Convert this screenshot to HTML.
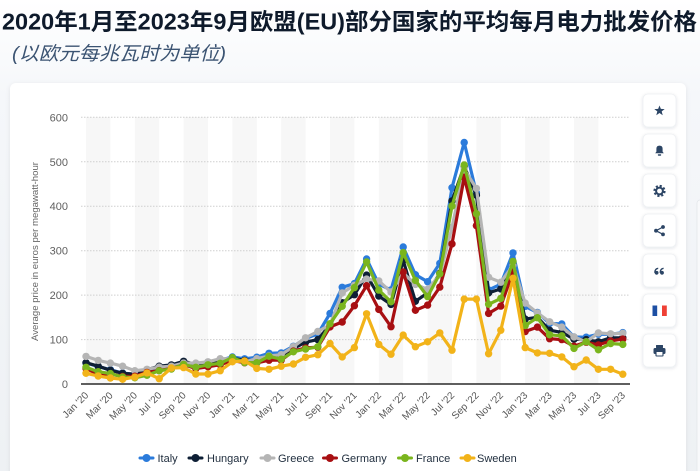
<!DOCTYPE html>
<html>
<head>
<meta charset="utf-8">
<style>
html,body{margin:0;padding:0;background:#fff;}
body{width:700px;height:471px;overflow:hidden;}
svg{display:block;}
.tk{font-family:"Liberation Sans",sans-serif;font-size:11px;fill:#606060;}
.xl{font-family:"Liberation Sans",sans-serif;font-size:10px;fill:#555;}
.lg{font-family:"Liberation Sans",sans-serif;font-size:11px;fill:#1f2d3d;}
</style>
</head>
<body>
<svg width="700" height="471" viewBox="0 0 700 471" xmlns="http://www.w3.org/2000/svg">
<defs>
<linearGradient id="bg" x1="0" y1="0" x2="0" y2="1">
<stop offset="0" stop-color="#ffffff"/>
<stop offset="0.2" stop-color="#f5f7fa"/>
<stop offset="1" stop-color="#eef1f4"/>
</linearGradient>
<filter id="sh" x="-10%" y="-10%" width="120%" height="120%">
<feDropShadow dx="0" dy="1" stdDeviation="2.5" flood-color="#1a2a40" flood-opacity="0.08"/>
</filter>
<filter id="bsh" x="-30%" y="-30%" width="160%" height="160%">
<feDropShadow dx="0" dy="1" stdDeviation="1.5" flood-color="#1a2a40" flood-opacity="0.12"/>
</filter>
<marker id="mI" markerWidth="10" markerHeight="10" refX="5" refY="5" markerUnits="userSpaceOnUse"><circle cx="5" cy="5" r="3.7" fill="#2b7bdb"/></marker>
<marker id="mH" markerWidth="10" markerHeight="10" refX="5" refY="5" markerUnits="userSpaceOnUse"><circle cx="5" cy="5" r="3.7" fill="#0e1f35"/></marker>
<marker id="mG" markerWidth="10" markerHeight="10" refX="5" refY="5" markerUnits="userSpaceOnUse"><circle cx="5" cy="5" r="3.7" fill="#b5b5b5"/></marker>
<marker id="mD" markerWidth="10" markerHeight="10" refX="5" refY="5" markerUnits="userSpaceOnUse"><circle cx="5" cy="5" r="3.7" fill="#a80f12"/></marker>
<marker id="mF" markerWidth="10" markerHeight="10" refX="5" refY="5" markerUnits="userSpaceOnUse"><circle cx="5" cy="5" r="3.7" fill="#7ab51d"/></marker>
<marker id="mS" markerWidth="10" markerHeight="10" refX="5" refY="5" markerUnits="userSpaceOnUse"><circle cx="5" cy="5" r="3.7" fill="#f2b319"/></marker>
</defs>

<rect x="0" y="0" width="700" height="471" fill="url(#bg)"/>

<!-- Title -->
<text x="2" y="29.5" font-family="'Liberation Sans','Noto Sans CJK SC',sans-serif" font-size="23" font-weight="bold" fill="#0e1a2b" textLength="695" lengthAdjust="spacingAndGlyphs">2020年1月至2023年9月欧盟(EU)部分国家的平均每月电力批发价格</text>
<text x="12" y="60" font-family="'Liberation Sans','Noto Sans CJK SC',sans-serif" font-size="19" font-style="italic" fill="#3b5372" textLength="214" lengthAdjust="spacingAndGlyphs">(以欧元每兆瓦时为单位)</text>

<!-- right strip -->
<rect x="697" y="200" width="6" height="280" rx="3" fill="#f8f9fb" stroke="#e3e6ea" stroke-width="0.8"/>

<!-- card -->
<rect x="10" y="83" width="676" height="400" rx="6" fill="#ffffff" filter="url(#sh)"/>

<!-- plot bands -->
<g fill="#f7f7f7">
<rect x="86" y="117" width="24.4" height="267"/>
<rect x="134.8" y="117" width="24.4" height="267"/>
<rect x="183.6" y="117" width="24.4" height="267"/>
<rect x="232.4" y="117" width="24.4" height="267"/>
<rect x="281.2" y="117" width="24.4" height="267"/>
<rect x="330" y="117" width="24.4" height="267"/>
<rect x="378.8" y="117" width="24.4" height="267"/>
<rect x="427.6" y="117" width="24.4" height="267"/>
<rect x="476.4" y="117" width="24.4" height="267"/>
<rect x="525.2" y="117" width="24.4" height="267"/>
<rect x="574" y="117" width="24.4" height="267"/>
</g>

<!-- gridlines -->
<g stroke="#cfcfcf" stroke-width="1" stroke-dasharray="1.5,1.5">
<line x1="81" y1="117.3" x2="630" y2="117.3"/>
<line x1="81" y1="161.8" x2="630" y2="161.8"/>
<line x1="81" y1="206.2" x2="630" y2="206.2"/>
<line x1="81" y1="250.7" x2="630" y2="250.7"/>
<line x1="81" y1="295.1" x2="630" y2="295.1"/>
<line x1="81" y1="339.6" x2="630" y2="339.6"/>
</g>

<!-- y tick labels -->
<g class="tk" text-anchor="end">
<text x="68" y="121.3">600</text>
<text x="68" y="165.8">500</text>
<text x="68" y="210.2">400</text>
<text x="68" y="254.7">300</text>
<text x="68" y="299.1">200</text>
<text x="68" y="343.6">100</text>
<text x="68" y="388">0</text>
</g>

<!-- y axis title -->
<text transform="translate(38,251.5) rotate(-90)" text-anchor="middle" font-family="'Liberation Sans',sans-serif" font-size="9.5" fill="#666" textLength="179" lengthAdjust="spacingAndGlyphs">Average price in euros per megawatt-hour</text>

<!-- series -->
<g fill="none" stroke-width="3.2" stroke-linejoin="round" stroke-linecap="round">
<polyline stroke="#2b7bdb" marker-start="url(#mI)" marker-mid="url(#mI)" marker-end="url(#mI)" points="86,362.9 98.2,366.5 110.4,369.8 122.6,373 134.8,374.3 147,371.6 159.2,367.1 171.4,366.1 183.6,362.3 195.8,364.6 208,362.3 220.2,360 232.4,357 244.6,358.8 256.8,357.2 269,353.3 281.2,352.9 293.4,346.3 305.6,338.4 317.8,334 330,313.5 342.2,287.3 354.4,283.6 366.6,259 378.8,284.2 391,289.9 403.2,247 415.4,274.7 427.6,281.7 439.8,263.4 452,187.7 464.2,142.5 476.4,192.9 488.6,289.9 500.8,284.2 513,252.9 525.2,306.4 537.4,312.4 549.6,323.4 561.8,324 574,337 586.2,337.2 598.4,334.2 610.6,334.3 622.8,332.6"/>
<polyline stroke="#0e1f35" marker-start="url(#mH)" marker-mid="url(#mH)" marker-end="url(#mH)" points="86,362.7 98.2,366.2 110.4,370.2 122.6,373.3 134.8,374.2 147,369.8 159.2,366.2 171.4,364.9 183.6,361.3 195.8,364.4 208,363.1 220.2,360.4 232.4,358.2 244.6,360.4 256.8,360 269,356.9 281.2,356.4 293.4,348.4 305.6,342.2 317.8,339.6 330,324.9 342.2,302.7 354.4,294.7 366.6,275.1 378.8,296 391,304.4 403.2,260.4 415.4,301.3 427.6,292.9 439.8,273.3 452,200.9 464.2,166.2 476.4,195.1 488.6,292.9 500.8,288.9 513,264.9 525.2,319.1 537.4,317.3 549.6,330.2 561.8,332.4 574,339.1 586.2,339.6 598.4,341.8 610.6,337.8 622.8,337.8"/>
<polyline stroke="#b5b5b5" marker-start="url(#mG)" marker-mid="url(#mG)" marker-end="url(#mG)" points="86,356.4 98.2,360.4 110.4,363.1 122.6,366.2 134.8,370.7 147,369.3 159.2,367.1 171.4,366.2 183.6,363.1 195.8,363.1 208,361.8 220.2,358.7 232.4,358.7 244.6,361.8 256.8,358.7 269,356 281.2,354.7 293.4,346.7 305.6,337.8 317.8,331.5 330,324.9 342.2,292.9 354.4,285.3 366.6,279.1 378.8,280.9 391,292 403.2,272.9 415.4,284.4 427.6,289.3 439.8,275.1 452,227.5 464.2,169.3 476.4,188.4 488.6,277.3 500.8,282.2 513,265.3 525.2,303.1 537.4,312.9 549.6,321.8 561.8,327.1 574,336.9 586.2,341.8 598.4,332.9 610.6,333.8 622.8,333.3"/>
<polyline stroke="#a80f12" marker-start="url(#mD)" marker-mid="url(#mD)" marker-end="url(#mD)" points="86,368.4 98.2,374.3 110.4,374 122.6,376.4 134.8,376.2 147,372.4 159.2,370.6 171.4,368.5 183.6,364.6 195.8,368.5 208,366.8 220.2,364.7 232.4,360.5 244.6,362.7 256.8,363 269,360.2 281.2,360.2 293.4,351.1 305.6,347.9 317.8,347.2 330,326.9 342.2,322 354.4,305.7 366.6,285.7 378.8,309.4 391,326.7 403.2,272 415.4,310.3 427.6,305.1 439.8,287.1 452,243.9 464.2,177.2 476.4,225.6 488.6,313.4 500.8,306.1 513,271.9 525.2,331.5 537.4,327.1 549.6,338.7 561.8,339.6 574,346.2 586.2,342.2 598.4,344.9 610.6,340.9 622.8,339.1"/>
<polyline stroke="#7ab51d" marker-start="url(#mF)" marker-mid="url(#mF)" marker-end="url(#mF)" points="86,367.3 98.2,371.7 110.4,373.6 122.6,377 134.8,377.8 147,375.3 159.2,370.8 171.4,369 183.6,364.4 195.8,367.3 208,364.8 220.2,363.3 232.4,357.6 244.6,362.5 256.8,362.7 269,356.3 281.2,359.2 293.4,351.8 305.6,349 317.8,346.8 330,323.7 342.2,306.3 354.4,287.6 366.6,261.9 378.8,290.1 391,301.8 403.2,252.6 415.4,280.4 427.6,296.6 439.8,273.8 452,206 464.2,165 476.4,213.7 488.6,304.3 500.8,298.4 513,261.4 525.2,325.5 537.4,317.7 549.6,334.8 561.8,335.8 574,348.4 586.2,341.8 598.4,349.8 610.6,343.5 622.8,344.4"/>
<polyline stroke="#f2b319" marker-start="url(#mS)" marker-mid="url(#mS)" marker-end="url(#mS)" points="86,373.3 98.2,376 110.4,378 122.6,379.3 134.8,377.1 147,372.9 159.2,378.7 171.4,368 183.6,367.6 195.8,374 208,374 220.2,370.7 232.4,361.8 244.6,360.9 256.8,368.4 269,369.3 281.2,366.2 293.4,364 305.6,357.3 317.8,354.7 330,343.5 342.2,356.9 354.4,347.6 366.6,313.8 378.8,344.4 391,354.2 403.2,335.1 415.4,346.7 427.6,341.8 439.8,332.9 452,350.2 464.2,299.1 476.4,299.1 488.6,353.8 500.8,330.2 513,278.2 525.2,347.6 537.4,352.9 549.6,353.3 561.8,356.9 574,366.7 586.2,360 598.4,369.3 610.6,369.3 622.8,374.2"/>
</g>

<!-- x axis line -->
<line x1="81" y1="384" x2="630" y2="384" stroke="#2a2a2a" stroke-width="1.5"/>

<!-- x labels -->
<g class="xl" text-anchor="end">
<text transform="translate(89,396) rotate(-45)">Jan '20</text>
<text transform="translate(113.4,396) rotate(-45)">Mar '20</text>
<text transform="translate(137.8,396) rotate(-45)">May '20</text>
<text transform="translate(162.2,396) rotate(-45)">Jul '20</text>
<text transform="translate(186.6,396) rotate(-45)">Sep '20</text>
<text transform="translate(211,396) rotate(-45)">Nov '20</text>
<text transform="translate(235.4,396) rotate(-45)">Jan '21</text>
<text transform="translate(259.8,396) rotate(-45)">Mar '21</text>
<text transform="translate(284.2,396) rotate(-45)">May '21</text>
<text transform="translate(308.6,396) rotate(-45)">Jul '21</text>
<text transform="translate(333,396) rotate(-45)">Sep '21</text>
<text transform="translate(357.4,396) rotate(-45)">Nov '21</text>
<text transform="translate(381.8,396) rotate(-45)">Jan '22</text>
<text transform="translate(406.2,396) rotate(-45)">Mar '22</text>
<text transform="translate(430.6,396) rotate(-45)">May '22</text>
<text transform="translate(455,396) rotate(-45)">Jul '22</text>
<text transform="translate(479.4,396) rotate(-45)">Sep '22</text>
<text transform="translate(503.8,396) rotate(-45)">Nov '22</text>
<text transform="translate(528.2,396) rotate(-45)">Jan '23</text>
<text transform="translate(552.6,396) rotate(-45)">Mar '23</text>
<text transform="translate(577,396) rotate(-45)">May '23</text>
<text transform="translate(601.4,396) rotate(-45)">Jul '23</text>
<text transform="translate(625.8,396) rotate(-45)">Sep '23</text>
</g>

<!-- legend -->
<g stroke-width="3" stroke-linecap="round">
<line x1="140" y1="458" x2="153" y2="458" stroke="#2b7bdb"/><circle cx="146.5" cy="458" r="4" fill="#2b7bdb" stroke="none"/>
<line x1="189" y1="458" x2="202" y2="458" stroke="#0e1f35"/><circle cx="195.5" cy="458" r="4" fill="#0e1f35" stroke="none"/>
<line x1="261" y1="458" x2="274" y2="458" stroke="#b5b5b5"/><circle cx="267.5" cy="458" r="4" fill="#b5b5b5" stroke="none"/>
<line x1="323.5" y1="458" x2="336.5" y2="458" stroke="#a80f12"/><circle cx="330" cy="458" r="4" fill="#a80f12" stroke="none"/>
<line x1="398.5" y1="458" x2="411.5" y2="458" stroke="#7ab51d"/><circle cx="405" cy="458" r="4" fill="#7ab51d" stroke="none"/>
<line x1="461" y1="458" x2="474" y2="458" stroke="#f2b319"/><circle cx="467.5" cy="458" r="4" fill="#f2b319" stroke="none"/>
</g>
<g class="lg">
<text x="157.5" y="462">Italy</text>
<text x="207" y="462">Hungary</text>
<text x="278" y="462">Greece</text>
<text x="341.5" y="462">Germany</text>
<text x="416" y="462">France</text>
<text x="477" y="462">Sweden</text>
</g>

<!-- buttons -->
<g fill="#ffffff" stroke="#eef0f3" stroke-width="0.8" filter="url(#bsh)">
<rect x="643" y="94" width="33" height="33" rx="5"/>
<rect x="643" y="134" width="33" height="33" rx="5"/>
<rect x="643" y="174" width="33" height="33" rx="5"/>
<rect x="643" y="214" width="33" height="33" rx="5"/>
<rect x="643" y="254" width="33" height="33" rx="5"/>
<rect x="643" y="294" width="33" height="33" rx="5"/>
<rect x="643" y="334" width="33" height="33" rx="5"/>
</g>
<g fill="#2c4565">
<!-- star -->
<polygon points="659.5,105.5 660.85,108.9 664.7,109.1 661.7,111.4 662.7,115.2 659.5,113 656.3,115.2 657.3,111.4 654.3,109.1 658.15,108.9"/>
<!-- bell -->
<path d="M655.2 153.2 L663.8 153.2 L662.6 151.6 L662.6 148.6 Q662.6 145.6 659.5 145.6 Q656.4 145.6 656.4 148.6 L656.4 151.6 Z"/>
<rect x="657.8" y="154.3" width="3.4" height="1.4" rx="0.7"/>
<!-- gear -->
<circle cx="659.5" cy="191" r="5" fill="none" stroke="#2c4565" stroke-width="2.2" stroke-dasharray="2.1,1.83"/>
<circle cx="659.5" cy="191" r="3.4" fill="#fff" stroke="#2c4565" stroke-width="2"/>
<!-- share -->
<circle cx="663" cy="227" r="1.9"/>
<circle cx="656" cy="230.7" r="1.9"/>
<circle cx="663" cy="234.4" r="1.9"/>
<path d="M663 227 L656 230.7 L663 234.4" fill="none" stroke="#2c4565" stroke-width="1.2"/>
<!-- quote -->
<circle cx="656.6" cy="272.8" r="1.9"/>
<circle cx="662" cy="272.8" r="1.9"/>
<path d="M654.8 272.8 Q654.8 268.6 658.2 268.3 M660.2 272.8 Q660.2 268.6 663.6 268.3" fill="none" stroke="#2c4565" stroke-width="1.4"/>
<!-- print -->
<rect x="656" y="345" width="7" height="3" rx="0.5"/>
<rect x="653.5" y="348" width="12" height="6" rx="1.5"/>
<rect x="656" y="351.5" width="7" height="4.5" rx="0.5" fill="#fff" stroke="#2c4565" stroke-width="1.1"/>
</g>
<!-- flag -->
<rect x="652.5" y="305.5" width="4.8" height="10.5" fill="#1d4fa3"/>
<rect x="657.3" y="305.5" width="4.7" height="10.5" fill="#ffffff"/>
<rect x="662" y="305.5" width="4.8" height="10.5" fill="#ef4035"/>
</svg>
</body>
</html>
